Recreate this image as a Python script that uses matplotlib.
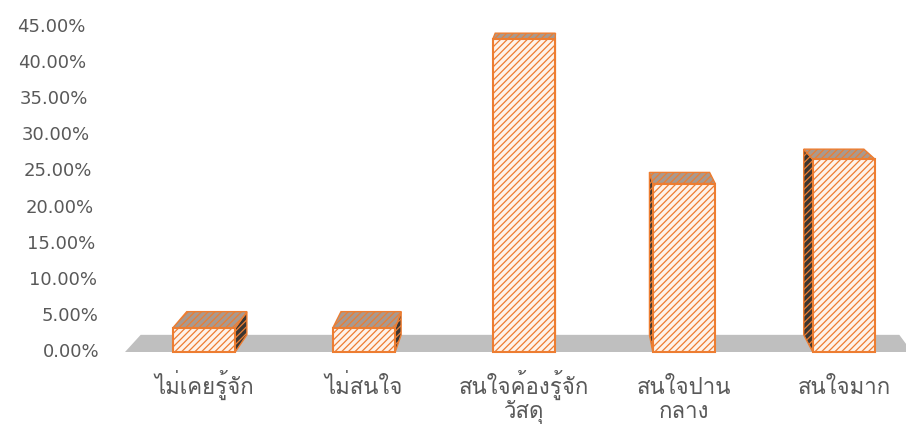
import matplotlib
matplotlib.use("Agg")
import matplotlib.pyplot as plt

# === Data ===
categories = ["ไม่เคยรู้จัก", "ไม่สนใจ", "สนใจค้องรู้จัก\nวัสดุ", "สนใจปาน\nกลาง", "สนใจมาก"]
values = [3.33, 3.33, 43.33, 23.33, 26.67]
yticks = [0, 5, 10, 15, 20, 25, 30, 35, 40, 45]

thai_family = ["Loma", "DejaVu Sans"]

# === Layout (pixel based) ===
W, H = 906, 428
px_left, px_right = 127, 906
py_zero, py_top = 352, 27
px_per_pct = (py_zero - py_top) / 45
cat0_px, cat_step = 204, 160
bar_w = 0.39

orange = "#ED7D31"
text_gray = "#595959"
plt.rcParams["hatch.linewidth"] = 0.9

fig = plt.figure(figsize=(W / 100, H / 100), dpi=100)
ax = fig.add_axes([px_left / W, (H - py_zero) / H, (px_right - px_left) / W, (py_zero - py_top) / H])
ax.set_xlim((px_left - cat0_px) / cat_step, (px_right - cat0_px) / cat_step)
ax.set_ylim(0, 45)
ax.axis("off")

# perspective: back point = front + t * (vanishing point - front)
vx, vy, t = (560 - cat0_px) / cat_step, 66.0, 0.036


def back(x, y):
    return x + t * (vx - x), y + t * (vy - y)


# === Floor ===
fl, fr = (125 - cat0_px) / cat_step, (912 - cat0_px) / cat_step
bl, bl_y = back(fl, 0)
br, br_y = back(fr, 0)
ax.fill([fl, fr, br, bl], [0, 0, br_y, bl_y], color="#BFBFBF", lw=0, clip_on=False, zorder=1)

# === Bars ===
xs = list(range(len(values)))
for x, v in zip(xs, values):
    x0, x1 = x - bar_w / 2, x + bar_w / 2
    # side face (the one facing the viewer)
    ex = x1 if x < vx else x0
    bx0, by0 = back(ex, 0)
    bx1, by1 = back(ex, v)
    ax.fill([ex, bx0, bx1, ex], [0, by0, by1, v], facecolor="#3b3632", edgecolor=orange,
            hatch="/////", lw=1.0, clip_on=False, zorder=2)
    # top face
    tlx, tly = back(x0, v)
    trx, try_ = back(x1, v)
    ax.fill([x0, x1, trx, tlx], [v, v, try_, tly], facecolor="#a8998f", edgecolor=orange,
            hatch="/////", lw=1.0, clip_on=False, zorder=3)

ax.bar(xs, values, width=bar_w, facecolor="#FEF3EA", edgecolor=orange, hatch="/////",
       lw=1.5, clip_on=False, zorder=4)

# === Y tick labels (they follow the slanted left wall) ===
for yv in yticks:
    rx = 100 - 15 * yv / 45
    ax.text((rx - cat0_px) / cat_step, yv, f"{yv:.2f}%", ha="right", va="center",
            fontsize=13, color=text_gray, family="DejaVu Sans", clip_on=False)

# === Category labels (one text per line so baselines line up) ===
line_px = [394, 418]
for x, lab in zip(xs, categories):
    for i, line in enumerate(lab.split("\n")):
        ax.text(x, (py_zero - line_px[i]) / px_per_pct, line, ha="center", va="baseline",
                fontsize=16, color=text_gray, family=thai_family, clip_on=False)

fig.savefig("out.png", dpi=100)
